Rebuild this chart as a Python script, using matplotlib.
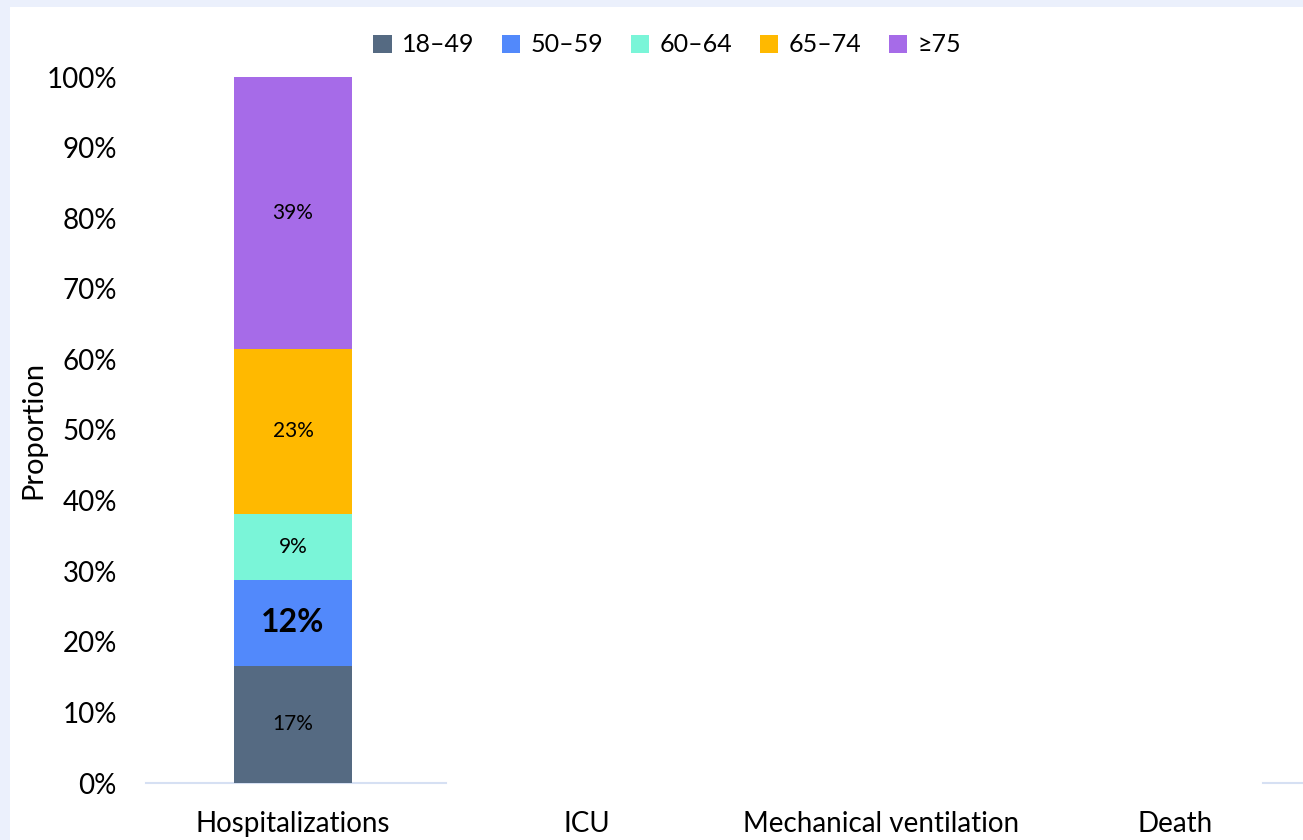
import matplotlib
matplotlib.use("Agg")
import matplotlib.pyplot as plt
from matplotlib.patches import Rectangle

plt.rcParams['font.family'] = ['Lato', 'DejaVu Sans']

categories = ['Hospitalizations', 'ICU', 'Mechanical ventilation', 'Death']
age_groups = ['18–49', '50–59', '60–64', '65–74', '≥75']
# proportions (%) per age group, only hospitalizations have data
values = [
    [16.6, 0, 0, 0],
    [12.2, 0, 0, 0],
    [9.3, 0, 0, 0],
    [23.4, 0, 0, 0],
    [38.5, 0, 0, 0],
]
labels = ['17%', '12%', '9%', '23%', '39%']
colors = ['#556a82', '#5289fb', '#7af5d8', '#ffb900', '#a66be8']
yticks = [0, 10, 20, 30, 40, 50, 60, 70, 80, 90, 100]

fig = plt.figure(figsize=(13.03, 8.4), dpi=100)
fig.patch.set_facecolor('#ebf0fc')
fig.patches.append(Rectangle((10 / 1303, 0), 1, 1 - 7 / 840, transform=fig.transFigure,
                             facecolor='white', edgecolor='none', zorder=-5))

ax = fig.add_axes([146 / 1303, 1 - 783 / 840, 1176 / 1303, 706 / 840])
ax.set_facecolor('none')
ax.set_zorder(1)

x = list(range(len(categories)))
bottom = [0] * len(categories)
handles = []
for i, grp in enumerate(age_groups):
    b = ax.bar(x, values[i], 0.4, bottom=bottom, color=colors[i], label=grp, zorder=3)
    handles.append(b)
    v = values[i][0]
    ax.text(0, bottom[0] + v / 2, labels[i], ha='center', va='center',
            fontsize=23 if i == 1 else 15, fontweight='bold' if i == 1 else 'normal',
            color='black', zorder=4)
    bottom = [bottom[j] + values[i][j] for j in range(len(categories))]

# baseline (partially visible in the original)
ax.plot([-0.5, 0.52], [0, 0], color='#d6e0f3', lw=1.5, zorder=2, clip_on=False)
ax.plot([3.3, 3.5], [0, 0], color='#d6e0f3', lw=1.5, zorder=2, clip_on=False)

ax.set_xlim(-0.5, 3.5)
ax.set_ylim(0, 100)
ax.set_yticks(yticks)
ax.set_yticklabels([f'{t}%' for t in yticks], fontsize=20)
ax.set_xticks(x)
ax.set_xticklabels(categories, fontsize=20)
ax.tick_params(axis='y', length=0, pad=21)
ax.tick_params(axis='x', length=0, pad=20)
for s in ax.spines.values():
    s.set_visible(False)

fig.text(33 / 1303, 1 - 430 / 840, 'Proportion', rotation=90, ha='center', va='center', fontsize=21)

fig.legend(handles=handles, labels=age_groups, loc='center', bbox_to_anchor=(667 / 1303, 1 - 45 / 840),
           ncol=5, frameon=False, fontsize=18, handlelength=0.75, handleheight=0.75,
           handletextpad=0.4, columnspacing=1.1)

fig.savefig('out.png', dpi=100, facecolor=fig.get_facecolor())
